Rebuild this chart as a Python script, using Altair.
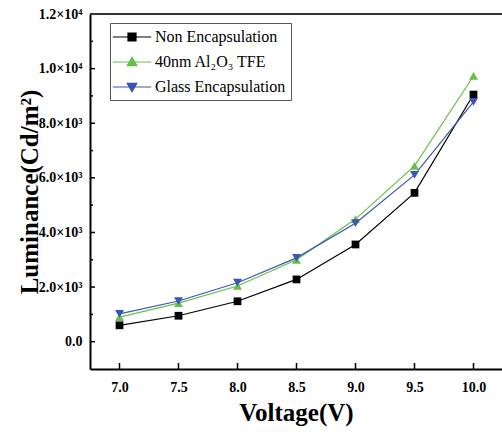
import altair as alt
import pandas as pd

voltage = [7.0, 7.5, 8.0, 8.5, 9.0, 9.5, 10.0]
non_enc = [600, 950, 1480, 2280, 3560, 5450, 9050]
tfe_enc = [900, 1410, 2040, 3000, 4490, 6440, 9730]
glass_enc = [1020, 1490, 2160, 3070, 4340, 6110, 8780]

series_names = ["Non Encapsulation", "40nm Al\u2082O\u2083 TFE", "Glass Encapsulation"]
series_colors = ["#000000", "#66c04a", "#3a56b4"]
series_shapes = ["square", "triangle-up", "triangle-down"]
series_sizes = [60, 80, 80]

x_major = [7.0, 7.5, 8.0, 8.5, 9.0, 9.5, 10.0]
y_major = [0, 2000, 4000, 6000, 8000, 10000, 12000]
y_minor = [1000, 3000, 5000, 7000, 9000, 11000]

rows = []
for name, vals in zip(series_names, [non_enc, tfe_enc, glass_enc]):
    for v, l in zip(voltage, vals):
        rows.append({"V": v, "L": l, "series": name})
df = pd.DataFrame(rows)

W, H = 412, 355
FONT = "Liberation Serif"

xscale = alt.Scale(domain=[6.75, 10.2415], nice=False, zero=False)
yscale = alt.Scale(domain=[-1000, 12000], nice=False, zero=False)

color_scale = alt.Scale(domain=series_names, range=series_colors)

# legend symbol: a short line with the marker in its middle (units of r = 8px)
legend_paths = [
    "M-2.4,0L2.4,0M-0.5,-0.5L0.5,-0.5L0.5,0.5L-0.5,0.5Z",
    "M-2.4,0L2.4,0M0,-0.6L0.6,0.45L-0.6,0.45Z",
    "M-2.4,0L2.4,0M0,0.6L0.6,-0.45L-0.6,-0.45Z",
]
shape_expr = ("datum.index === 0 ? '%s' : (datum.index === 1 ? '%s' : '%s')"
              % tuple(legend_paths))
color_expr = "scale('color', datum.value)"

ylabel_expr = ("datum.value == 0 ? '0.0' : (datum.value >= 10000 ? "
               "format(datum.value/10000, '.1f') + '×10⁴' : "
               "format(datum.value/1000, '.1f') + '×10³')")

x_enc = alt.X("V:Q", scale=xscale,
              axis=alt.Axis(title="Voltage(V)", values=x_major, format=".1f",
                            tickSize=0, labelPadding=11, titlePadding=6,
                            grid=False))
y_enc = alt.Y("L:Q", scale=yscale,
              axis=alt.Axis(title="Luminance(Cd/m²)", values=y_major,
                            labelExpr=ylabel_expr, tickSize=0, labelPadding=8,
                            titleX=-61, titleY=H / 2, titleAngle=270,
                            titleAlign="center", titleBaseline="middle",
                            grid=False))

base = alt.Chart(df)

lines = base.mark_line(strokeWidth=1.2).encode(
    x=x_enc, y=y_enc,
    color=alt.Color(
        "series:N", scale=color_scale,
        legend=alt.Legend(
            title=None, orient="none", legendX=20, legendY=9,
            symbolSize=256, symbolOffset=8, labelOffset=14,
            symbolType=alt.ExprRef(shape_expr),
            symbolStrokeColor=alt.ExprRef(color_expr),
            symbolFillColor=alt.ExprRef(color_expr),
            symbolStrokeWidth=1.2, symbolOpacity=1,
            labelFont=FONT, labelFontSize=16, labelFontWeight="normal",
            labelColor="#000000", rowPadding=8, padding=5,
            strokeColor="#555555", fillColor="white",
        ),
    ),
    detail="series:N",
)

point_layers = []
for name, col, shp, sz in zip(series_names, series_colors, series_shapes, series_sizes):
    point_layers.append(
        base.transform_filter(alt.datum.series == name)
        .mark_point(filled=True, size=sz, opacity=1, shape=shp, color=col)
        .encode(x="V:Q", y="L:Q")
    )

ytick_major_df = pd.DataFrame({"v": y_major})
ytick_minor_df = pd.DataFrame({"v": y_minor})
xtick_df = pd.DataFrame({"v": x_major})

ytick_major = alt.Chart(ytick_major_df).mark_rule(color="black", strokeWidth=1.5).encode(
    y=alt.Y("v:Q", scale=yscale), x=alt.value(0), x2=alt.value(5))
ytick_minor = alt.Chart(ytick_minor_df).mark_rule(color="black", strokeWidth=1.5).encode(
    y=alt.Y("v:Q", scale=yscale), x=alt.value(0), x2=alt.value(3))
xtick = alt.Chart(xtick_df).mark_rule(color="black", strokeWidth=1.5).encode(
    x=alt.X("v:Q", scale=xscale), y=alt.value(H), y2=alt.value(H - 6))

# top frame line of the plot box (the right side lies outside the picture)
top_frame = alt.Chart(xtick_df).mark_rule(color="#333333", strokeWidth=2).encode(
    x=alt.value(0), x2=alt.value(W), y=alt.value(0))

chart = alt.layer(
    lines, *point_layers, ytick_major, ytick_minor, xtick, top_frame
).properties(
    width=W, height=H,
    autosize=alt.AutoSizeParams(type="none"),
    padding={"left": 90, "top": 14, "right": 0, "bottom": 63},
).configure_view(
    strokeWidth=0
).configure_axis(
    domainColor="#000000", domainWidth=2,
    labelFont=FONT, labelFontSize=14, labelFontWeight="bold", labelColor="#000000",
    titleFont=FONT, titleFontWeight="bold", titleColor="#000000",
).configure_axisX(
    titleFontSize=25
).configure_axisY(
    titleFontSize=25
)

chart.save("out.html", embed_options={"renderer": "svg", "actions": False})
